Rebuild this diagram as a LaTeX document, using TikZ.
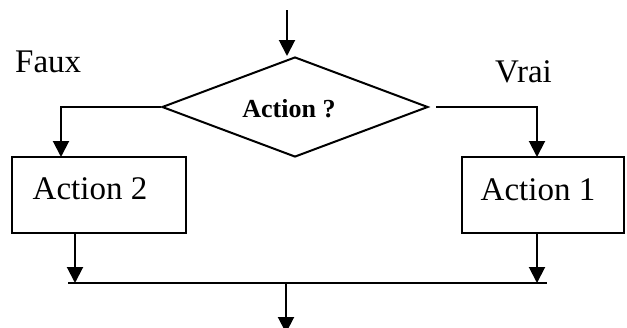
\documentclass[tikz,border=0pt]{standalone}
\usepackage{fontspec}
\setmainfont{Liberation Serif}
\usetikzlibrary{arrows.meta,shapes.geometric}
\begin{document}
\begin{tikzpicture}[x=1pt,y=-1pt,
  ln/.style={line width=2pt},
  arr/.style={ln,-{Triangle[length=16pt,width=16pt]}},
  box/.style={draw,ln,minimum width=174pt,minimum height=76pt,inner sep=0pt},
  lbl/.style={font=\fontsize{33}{36}\selectfont,inner sep=0pt}]
\useasboundingbox (0,0) rectangle (627,327);
\coordinate (top) at (287,10);
\node[draw,ln,diamond,aspect=2.6,minimum width=266pt,minimum height=100pt,inner sep=0pt] (d) at (295,107) {};
\node[font=\fontsize{26}{28}\selectfont\bfseries,inner sep=0pt] (dt) at (289,109) {Action ?};
\node[box] (a2) at (99,195) {};
\node[lbl] (a2t) at (90,189) {Action 2};
\node[box,minimum width=162pt] (a1) at (543,195) {};
\node[lbl] (a1t) at (538,190) {Action 1};
\node[lbl,anchor=west] (faux) at (15,62) {Faux};
\node[lbl,anchor=west] (vrai) at (495,72) {Vrai};
\coordinate (ltop) at (61,157);
\coordinate (rtop) at (537,157);
\coordinate (lbot) at (75,233);
\coordinate (rbot) at (537,233);
\coordinate (hl) at (68,283);
\coordinate (hr) at (547,283);
\coordinate (mid) at (286,283);
\coordinate (bot) at (286,333);
\coordinate (dright) at (436,107);
\draw[arr] (top) -- (top |- d.north);
\draw[arr] (d.west) -| (ltop);
\draw[arr] (dright) -| (rtop);
\draw[arr] (lbot) -- (lbot |- hl);
\draw[arr] (rbot) -- (rbot |- hl);
\draw[line width=2.6pt] (hl) -- (hr);
\draw[arr] (mid) -- (bot);
\end{tikzpicture}
\end{document}
